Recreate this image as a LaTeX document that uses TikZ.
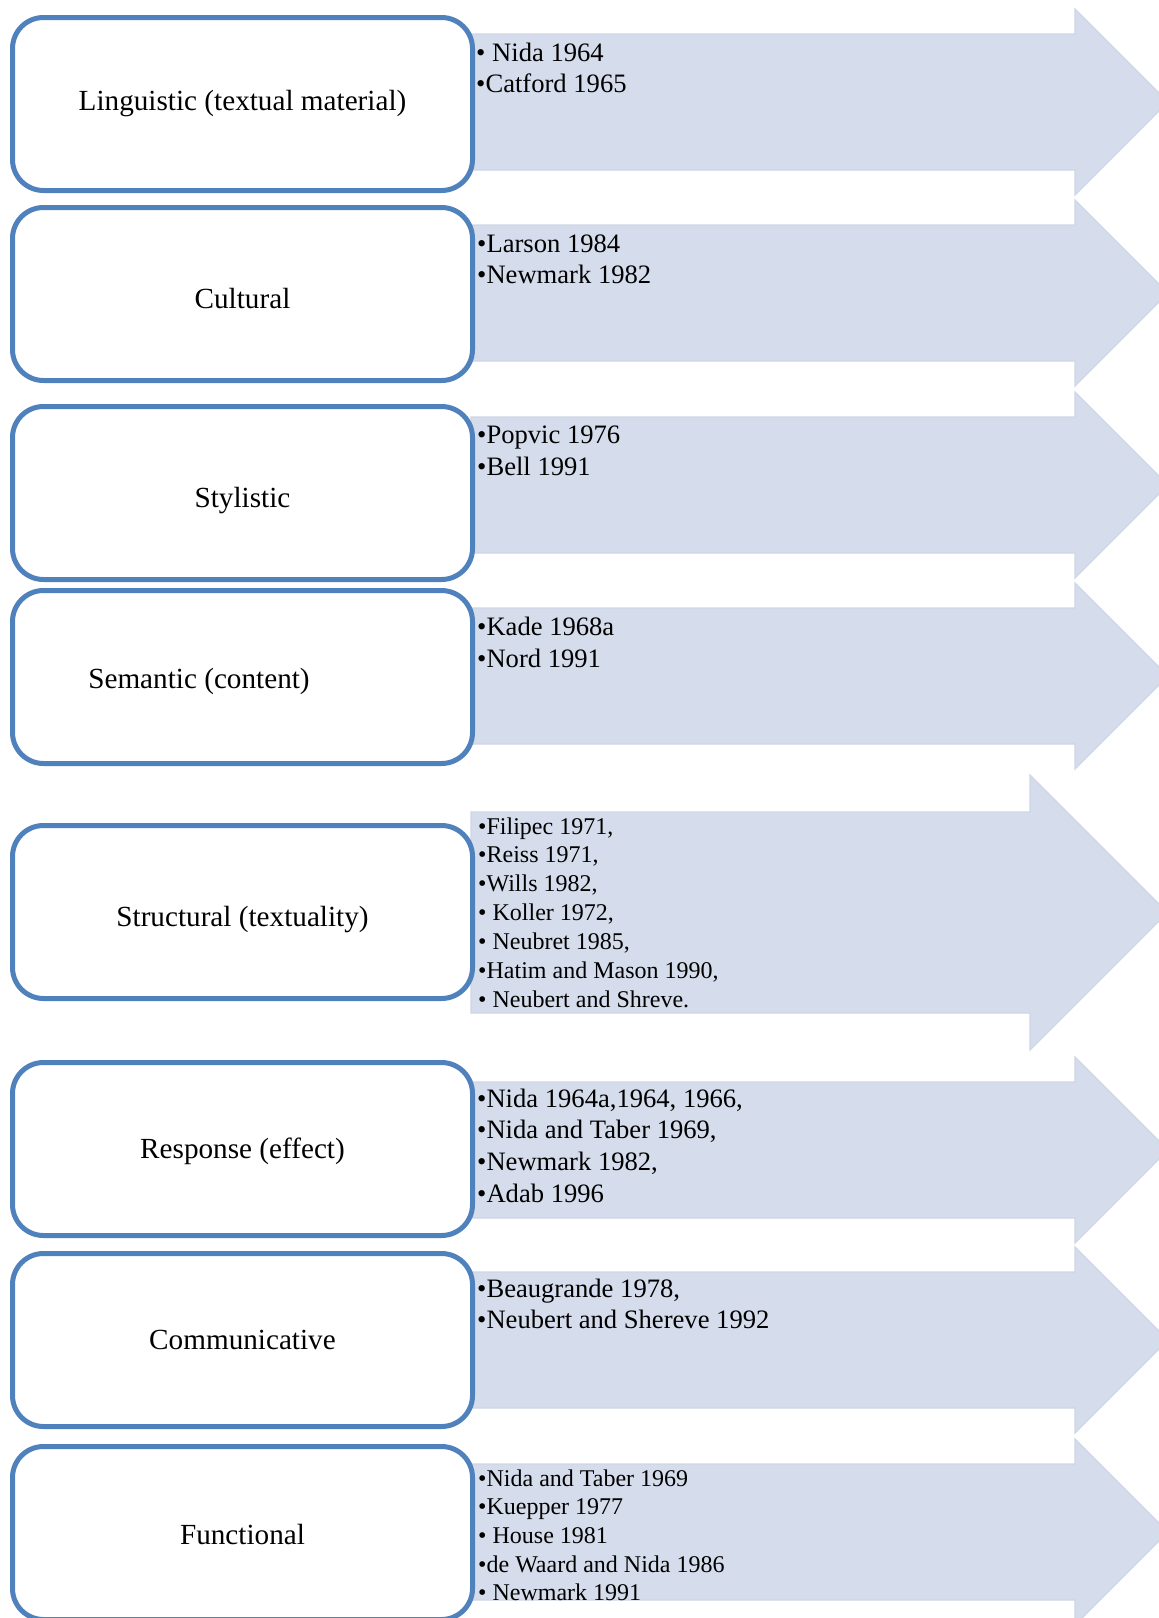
\documentclass[tikz,border=0pt]{standalone}
\usepackage{fontspec}
\setmainfont{Liberation Serif}
\definecolor{boxblue}{RGB}{79,129,189}
\definecolor{arrfill}{RGB}{213,220,235}
\definecolor{arrline}{RGB}{206,214,231}
\tikzset{
  bx/.style={draw=boxblue, line width=5pt, fill=white, rounded corners=31pt,
    minimum width=460pt, minimum height=173pt, inner sep=0pt},
  lbl/.style={anchor=base, inner sep=0pt, font=\fontsize{29.2}{35}\selectfont},
  itm/.style={anchor=base west, inner sep=0pt, font=\fontsize{26.6}{31.7}\selectfont},
  itms/.style={anchor=base west, inner sep=0pt, font=\fontsize{24}{28.8}\selectfont},
  arr/.style={fill=arrfill, draw=arrline, line width=1.2pt, line join=miter},
}
% #1 body top, #2 body height, #3 head overhang, #4 head back x
\newcommand\myarrowshape[4]{%
  \filldraw[arr] (471,#1) -- (#4,#1) -- (#4,#1-#3) -- (#4+#2/2+#3,#1+#2/2)
    -- (#4,#1+#2+#3) -- (#4,#1+#2) -- (471,#1+#2) -- cycle;}
\begin{document}
\begin{tikzpicture}[x=1pt,y=-1pt]
\useasboundingbox (0,0) rectangle (1159,1618);
\clip (0,0) rectangle (1159,1618);
\fill[white] (0,0) rectangle (1159,1618);
% arrows
\myarrowshape{34}{136}{25}{1075}
\myarrowshape{225}{136}{25}{1075}
\myarrowshape{417}{136}{25}{1075}
\myarrowshape{608}{136}{25}{1075}
\myarrowshape{812}{201}{37}{1030}
\myarrowshape{1082}{136}{25}{1075}
\myarrowshape{1272}{136}{25}{1075}
\myarrowshape{1464}{136}{25}{1075}
% boxes
\node[bx] (b1) at (242.5,104) {};
\node[bx] (b2) at (242.5,294) {};
\node[bx] (b3) at (242.5,493) {};
\node[bx] (b4) at (242.5,677) {};
\node[bx] (b5) at (242.5,912) {};
\node[bx] (b6) at (242.5,1149) {};
\node[bx] (b7) at (242.5,1340) {};
\node[bx] (b8) at (242.5,1533) {};
% labels
\node[lbl] (t1) at (242.5,110) {Linguistic (textual material)};
\node[lbl] (t2) at (242.5,308) {Cultural};
\node[lbl] (t3) at (242.5,507) {Stylistic};
\node[lbl] (t4) at (199,688) {Semantic (content)};
\node[lbl] (t5) at (242.5,926) {Structural (textuality)};
\node[lbl] (t6) at (242.5,1158) {Response (effect)};
\node[lbl] (t7) at (242.5,1349) {Communicative};
\node[lbl] (t8) at (242.5,1544) {Functional};
% lists
\node[itm] (l1a) at (476,61) {• Nida 1964};
\node[itm] (l1b) at (476,92.7) {•Catford 1965};
\node[itm] (l2a) at (477,252) {•Larson 1984};
\node[itm] (l2b) at (477,283.7) {•Newmark 1982};
\node[itm] (l3a) at (477,443.5) {•Popvic 1976};
\node[itm] (l3b) at (477,475.5) {•Bell 1991};
\node[itm] (l4a) at (477,635) {•Kade 1968a};
\node[itm] (l4b) at (477,667) {•Nord 1991};
\node[itms] (l5a) at (478,834) {•Filipec 1971,};
\node[itms] (l5b) at (478,862.9) {•Reiss 1971,};
\node[itms] (l5c) at (478,891.8) {•Wills 1982,};
\node[itms] (l5d) at (478,920.7) {• Koller 1972,};
\node[itms] (l5e) at (478,949.6) {• Neubret 1985,};
\node[itms] (l5f) at (478,978.5) {•Hatim and Mason 1990,};
\node[itms] (l5g) at (478,1007.4) {• Neubert and Shreve.};
\node[itm] (l6a) at (477,1107) {•Nida 1964a,1964, 1966,};
\node[itm] (l6b) at (477,1138.7) {•Nida and Taber 1969,};
\node[itm] (l6c) at (477,1170.4) {•Newmark 1982,};
\node[itm] (l6d) at (477,1202.1) {•Adab 1996};
\node[itm] (l7a) at (477,1297) {•Beaugrande 1978,};
\node[itm] (l7b) at (477,1328.7) {•Neubert and Shereve 1992};
\node[itms] (l8a) at (478,1486) {•Nida and Taber 1969};
\node[itms] (l8b) at (478,1514.7) {•Kuepper 1977};
\node[itms] (l8c) at (478,1543.4) {• House 1981};
\node[itms] (l8d) at (478,1572.1) {•de Waard and Nida 1986};
\node[itms] (l8e) at (478,1600.8) {• Newmark 1991};
\end{tikzpicture}
\end{document}
